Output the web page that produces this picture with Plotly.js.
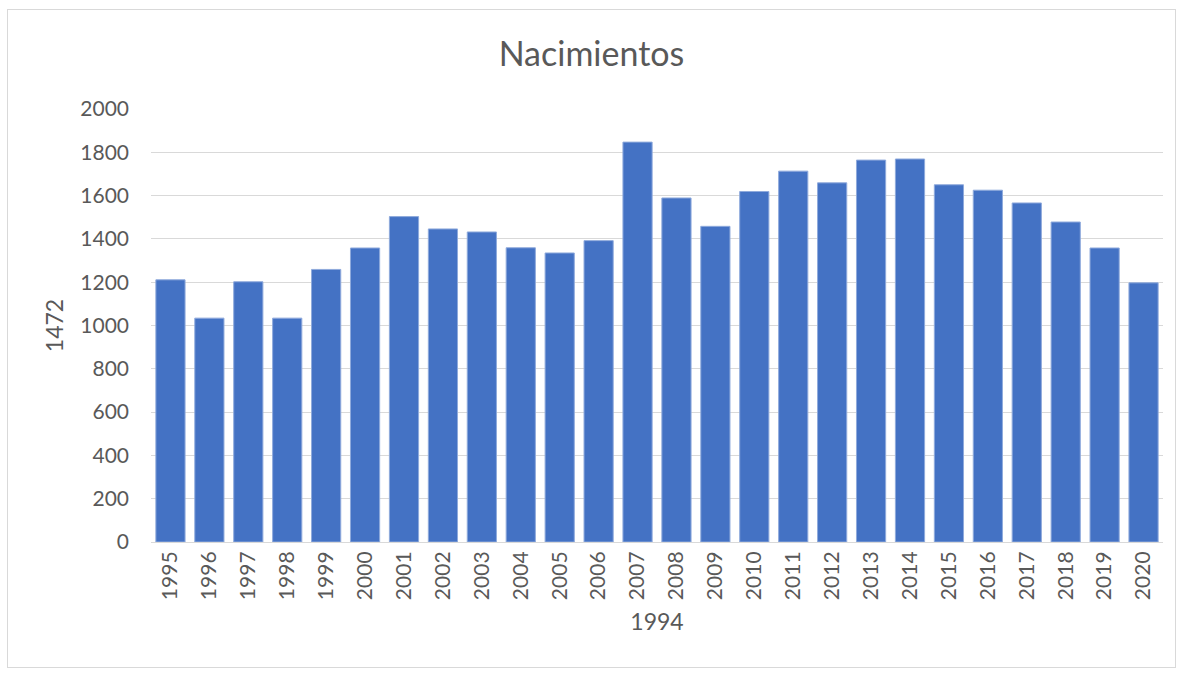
<!DOCTYPE html>
<html>
<head>
<meta charset="utf-8">
<script src="https://cdn.plot.ly/plotly-3.0.1.min.js"></script>
<style>
  body { margin: 0; background: #fff; }
  #chart { position: absolute; left: 7px; top: 9px; width: 1167px; height: 657px; border: 1px solid #d9d9d9; }
</style>
</head>
<body>
<div id="chart"></div>
<script>
const years = ['1995', '1996', '1997', '1998', '1999', '2000', '2001', '2002', '2003', '2004',
  '2005', '2006', '2007', '2008', '2009', '2010', '2011', '2012', '2013', '2014',
  '2015', '2016', '2017', '2018', '2019', '2020']
const births = [1211, 1034, 1202, 1034, 1259, 1358, 1503, 1446, 1432, 1359,
  1335, 1392, 1847, 1589, 1458, 1619, 1713, 1659, 1764, 1769,
  1650, 1625, 1566, 1478, 1358, 1197]
const y_ticks = [0, 200, 400, 600, 800, 1000, 1200, 1400, 1600, 1800, 2000]

const font_family = 'Lato, "Liberation Sans", sans-serif'
const text_color = '#595959'

let data = [{
  x: years,
  y: births,
  type: 'bar',
  marker: { color: '#4472c4', line: { color: '#8faadc', width: 1 } },
  hoverinfo: 'x+y'
}]

let layout = {
  width: 1167,
  height: 657,
  margin: { l: 143, r: 12, t: 99, b: 125 },
  paper_bgcolor: '#ffffff',
  plot_bgcolor: '#ffffff',
  showlegend: false,
  bargap: 0.25,
  font: { family: font_family, color: text_color, size: 21 },
  title: {
    text: 'Nacimientos',
    font: { size: 34, color: text_color, family: font_family },
    x: 0.5,
    xanchor: 'center',
    y: 1 - 44 / 657,
    yanchor: 'middle'
  },
  xaxis: {
    type: 'category',
    tickangle: -90,
    tickfont: { size: 21 },
    showgrid: false,
    showline: true,
    linecolor: '#d9d9d9',
    linewidth: 1,
    ticks: '',
    ticklen: 0,
    title: { text: '1994', font: { size: 23 }, standoff: 14 }
  },
  yaxis: {
    range: [0, 2000],
    tickvals: y_ticks,
    ticktext: y_ticks.map(String),
    tickfont: { size: 21 },
    gridcolor: '#d9d9d9',
    gridwidth: 1,
    zeroline: false,
    showline: false,
    ticks: '',
    ticklabelstandoff: 21,
    title: { text: '1472', font: { size: 23 }, standoff: 10 }
  }
}

Plotly.newPlot('chart', data, layout, { displayModeBar: false, staticPlot: true })
</script>
</body>
</html>
